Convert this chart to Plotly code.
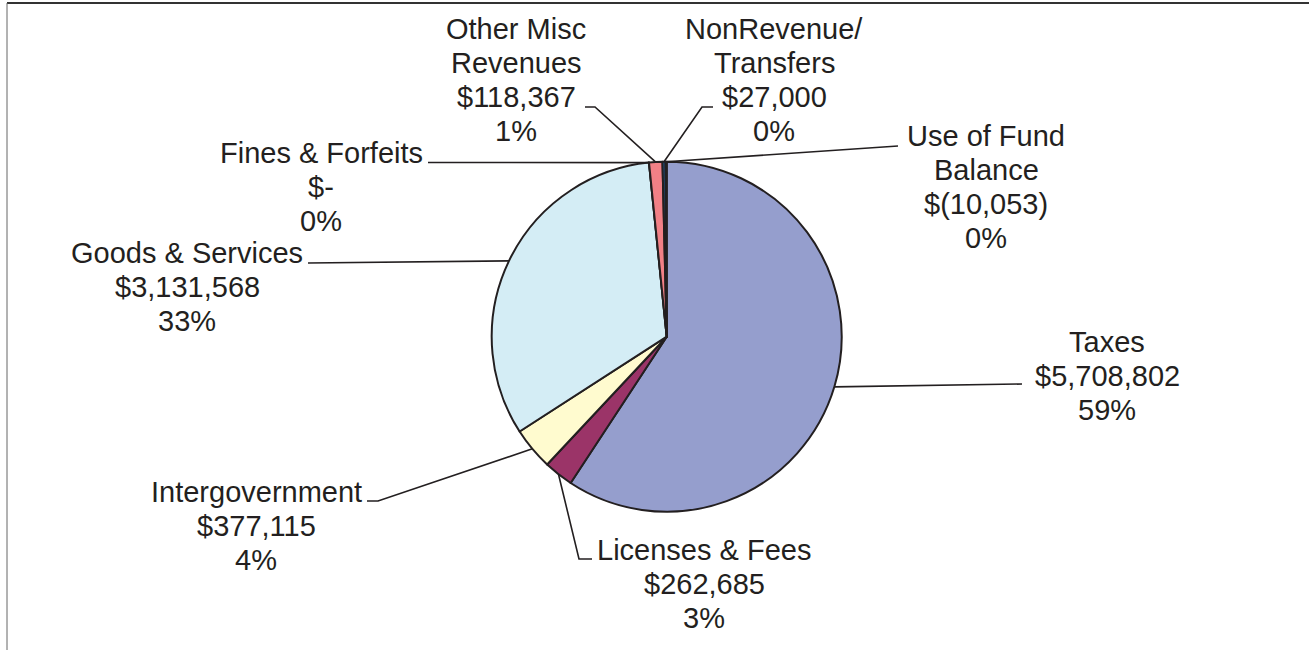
import plotly.graph_objects as go

W, H = 1309, 650

# Revenue categories, in slice order (clockwise from 12 o'clock)
categories = ["Taxes", "Licenses & Fees", "Intergovernment", "Goods & Services",
              "Fines & Forfeits", "Other Misc Revenues", "NonRevenue/Transfers",
              "Use of Fund Balance"]
name_lines = [["Taxes"], ["Licenses & Fees"], ["Intergovernment"], ["Goods & Services"],
              ["Fines & Forfeits"], ["Other Misc", "Revenues"], ["NonRevenue/", "Transfers"],
              ["Use of Fund", "Balance"]]
amounts = [5708802, 262685, 377115, 3131568, 0, 118367, 27000, -10053]

slice_colors = ["#959ECD", "#9B3468", "#FFFBCF", "#D4EDF5",
                "#660066", "#F28086", "#1F5E9C", "#C9CCF0"]

# Label layout (pixels): block centre x, first-line centre y
label_x = [1107, 704, 256, 187, 321, 516, 774, 986]
label_y = [342, 550, 492, 253, 153, 29, 29, 136]
LINE_STEP = 34

# Leader lines: points from the label end towards the slice (pixels)
leader_pts = [
    [(1022, 384)],
    [(592, 559), (579, 559)],
    [(367, 501), (378, 501)],
    [(308, 263)],
    [(428, 162.5)],
    [(585, 107), (595, 107)],
    [(713, 107), (702, 107)],
    [(898, 146)],
]

# Pie placement (pixels)
CX, CY, R = 666.7, 336.7, 175.0

INK = "#231F20"
FONT = dict(family="Liberation Sans, Arial, Helvetica, sans-serif", size=29, color=INK)

# pie slices use magnitudes, like a spreadsheet pie does with negatives
mags = [abs(v) for v in amounts]
total = float(sum(mags))


def money(v):
    if v == 0:
        return "$-"
    if v < 0:
        return "$({:,})".format(-v)
    return "${:,}".format(v)


def px(x):
    return x / W


def py(y):
    return 1 - y / H


fig = go.Figure(go.Pie(
    labels=categories,
    values=mags,
    sort=False,
    direction="clockwise",
    rotation=0,
    textinfo="none",
    hoverinfo="label+value+percent",
    marker=dict(colors=slice_colors, line=dict(color=INK, width=2)),
    domain=dict(x=[px(CX - R), px(CX + R)], y=[py(CY + R), py(CY - R)]),
    showlegend=False,
))

import math

annotations = []
shapes = []
cum = 0.0
for i, v in enumerate(mags):
    mid = (cum + v / 2) / total
    cum += v
    ang = 2 * math.pi * mid
    rim = (CX + R * math.sin(ang), CY - R * math.cos(ang))

    pts = leader_pts[i] + [rim]
    path = "M {} {}".format(px(pts[0][0]), py(pts[0][1]))
    for (x, y) in pts[1:]:
        path += " L {} {}".format(px(x), py(y))
    shapes.append(dict(type="path", path=path, xref="paper", yref="paper",
                       line=dict(color=INK, width=1.6)))

    pct = "{}%".format(int(round(100 * v / total)))
    lines = name_lines[i] + [money(amounts[i]), pct]
    for k, t in enumerate(lines):
        annotations.append(dict(
            text=t, x=px(label_x[i]), y=py(label_y[i] + k * LINE_STEP),
            xref="paper", yref="paper", xanchor="center", yanchor="middle",
            showarrow=False, font=FONT,
        ))

# chart frame (top and left edges)
shapes.append(dict(type="line", xref="paper", yref="paper",
                   x0=px(7), x1=1, y0=py(3), y1=py(3),
                   line=dict(color="#333333", width=2)))
shapes.append(dict(type="line", xref="paper", yref="paper",
                   x0=px(7), x1=px(7), y0=py(3), y1=0,
                   line=dict(color="#666666", width=1)))

fig.update_layout(
    width=W, height=H,
    margin=dict(l=0, r=0, t=0, b=0),
    paper_bgcolor="white",
    plot_bgcolor="white",
    annotations=annotations,
    shapes=shapes,
)

fig.write_html("out.html")
